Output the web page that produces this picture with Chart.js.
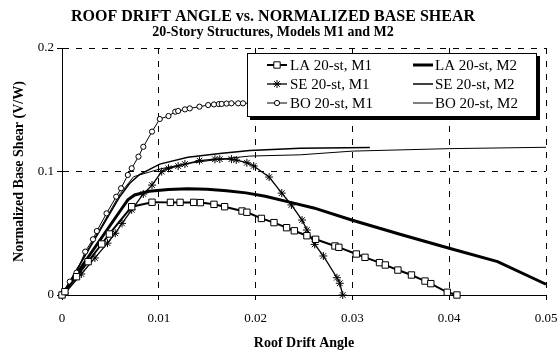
<!DOCTYPE html>
<html>
<head>
<meta charset="utf-8">
<script src="https://cdn.jsdelivr.net/npm/chart.js@4.4.1/dist/chart.umd.min.js"></script>
<style>
  html, body { margin: 0; padding: 0; background: #fff; }
  canvas { display: block; }
</style>
</head>
<body>
<canvas id="drift-shear-chart" width="559" height="356"></canvas>
<script>
// Roof drift angle (x) and normalized base shear V/W (y), one pair of arrays per curve
const laM1Drift = [0, 0.0003, 0.0015, 0.0027, 0.0041, 0.0049, 0.0072, 0.0093, 0.0112, 0.0122, 0.0136, 0.0143, 0.0157, 0.0168, 0.0186, 0.0191, 0.0206, 0.0219, 0.0232, 0.024, 0.0253, 0.0262, 0.0282, 0.0286, 0.0304, 0.0313, 0.0328, 0.0334, 0.0347, 0.0361, 0.0375, 0.0381, 0.0398, 0.0408];
const laM1Shear = [0, 0.0027, 0.0148, 0.027, 0.0413, 0.0494, 0.0715, 0.0751, 0.075, 0.075, 0.075, 0.0748, 0.0734, 0.0715, 0.068, 0.067, 0.062, 0.0586, 0.0545, 0.052, 0.048, 0.0451, 0.0397, 0.0386, 0.0332, 0.0305, 0.0262, 0.0243, 0.0202, 0.0162, 0.0113, 0.0092, 0.0022, 0];

const seM1Drift = [0, 0.0003, 0.002, 0.0034, 0.0047, 0.0055, 0.0062, 0.0072, 0.0084, 0.0093, 0.0103, 0.011, 0.012, 0.0127, 0.0142, 0.0158, 0.0163, 0.0175, 0.018, 0.0191, 0.0198, 0.0214, 0.0227, 0.0237, 0.0248, 0.0253, 0.0261, 0.027, 0.0284, 0.0287, 0.029];
const seM1Shear = [0, 0.0014, 0.017, 0.03, 0.042, 0.05, 0.058, 0.069, 0.0818, 0.089, 0.0999, 0.1026, 0.1044, 0.106, 0.1088, 0.1099, 0.11, 0.11, 0.1093, 0.1071, 0.1045, 0.0955, 0.0825, 0.0729, 0.0607, 0.0526, 0.041, 0.0316, 0.014, 0.0095, 0];

const boM1Drift = [0, 0.0001, 0.0008, 0.0015, 0.0024, 0.0032, 0.0036, 0.0046, 0.0056, 0.0061, 0.0068, 0.0072, 0.0079, 0.0084, 0.0093, 0.0101, 0.011, 0.0117, 0.012, 0.0127, 0.0132, 0.0142, 0.0151, 0.0157, 0.0162, 0.0165, 0.017, 0.0175, 0.0182, 0.0187, 0.0195, 0.0205];
const boM1Shear = [0, 0.0014, 0.0108, 0.0181, 0.0351, 0.0451, 0.0518, 0.0661, 0.0796, 0.0864, 0.0972, 0.1026, 0.112, 0.12, 0.1323, 0.1425, 0.1449, 0.1484, 0.149, 0.1503, 0.1511, 0.1525, 0.1538, 0.1543, 0.1546, 0.1547, 0.155, 0.1552, 0.1552, 0.1552, 0.1553, 0.1555];

const laM2Drift = [0, 0.006, 0.0068, 0.0075, 0.009, 0.011, 0.013, 0.015, 0.017, 0.019, 0.021, 0.0235, 0.026, 0.03, 0.035, 0.04, 0.045, 0.05];
const laM2Shear = [0, 0.068, 0.077, 0.081, 0.084, 0.0855, 0.086, 0.0857, 0.0845, 0.0827, 0.08, 0.0752, 0.0705, 0.0605, 0.049, 0.0378, 0.027, 0.0087];

const seM2Drift = [0, 0.003, 0.006, 0.007, 0.008, 0.0101, 0.013, 0.0163, 0.0194, 0.0246, 0.0318];
const seM2Shear = [0, 0.04, 0.08, 0.0905, 0.0975, 0.106, 0.1115, 0.1145, 0.117, 0.1188, 0.1195];

const boM2Drift = [0, 0.003, 0.006, 0.0074, 0.0101, 0.013, 0.0163, 0.0194, 0.0246, 0.03, 0.04, 0.05];
const boM2Shear = [0, 0.041, 0.082, 0.0958, 0.102, 0.1065, 0.11, 0.1125, 0.1135, 0.1165, 0.1185, 0.1196];

const seriesLabels = ["LA 20-st, M1", "SE 20-st, M1", "BO 20-st, M1", "LA 20-st, M2", "SE 20-st, M2", "BO 20-st, M2"];
const driftTicks = [0, 0.01, 0.02, 0.03, 0.04, 0.05];
const shearTicks = [0, 0.1, 0.2];

const serif = "'Liberation Serif', 'Times New Roman', serif";

function toPoints(xs, ys) {
  return xs.map((x, i) => ({ x: x, y: ys[i] }));
}

function series(label, xs, ys, lineWidth, pointStyle, pointRadius) {
  return {
    label: label,
    data: toPoints(xs, ys),
    borderColor: "#000",
    borderWidth: lineWidth,
    pointStyle: pointStyle,
    pointRadius: pointRadius,
    pointHoverRadius: pointRadius,
    pointBackgroundColor: "#fff",
    pointBorderColor: "#000",
    pointBorderWidth: 1,
    tension: 0,
    fill: false,
    clip: false,
  };
}

// legend box drawn inside the plot, two columns of three
const insideLegend = {
  id: "insideLegend",
  afterDatasetsDraw(chart) {
    const ctx = chart.ctx;
    const box = { x: 247, y: 53, w: 290, h: 64 };
    const cols = [{ line: 267, text: 290 }, { line: 413, text: 435 }];
    const rows = [65, 84, 103];
    ctx.save();
    ctx.fillStyle = "#000";
    ctx.fillRect(box.x + 3, box.y + 3, box.w, box.h);
    ctx.fillStyle = "#fff";
    ctx.fillRect(box.x, box.y, box.w, box.h);
    ctx.strokeStyle = "#000";
    ctx.lineWidth = 1;
    ctx.strokeRect(box.x + 0.5, box.y + 0.5, box.w - 1, box.h - 1);
    ctx.font = "15px " + serif;
    ctx.textBaseline = "middle";
    ctx.textAlign = "left";
    chart.data.datasets.forEach((ds, i) => {
      const col = cols[Math.floor(i / 3)];
      const y = rows[i % 3];
      ctx.strokeStyle = "#000";
      ctx.lineWidth = ds.borderWidth;
      ctx.beginPath();
      ctx.moveTo(col.line, y);
      ctx.lineTo(col.line + 20, y);
      ctx.stroke();
      if (ds.pointRadius > 0) {
        ctx.fillStyle = "#fff";
        ctx.lineWidth = 1;
        Chart.helpers.drawPoint(ctx, { pointStyle: ds.pointStyle, radius: ds.pointRadius, borderWidth: 1, rotation: 0 }, col.line + 10, y);
      }
      ctx.fillStyle = "#000";
      ctx.fillText(ds.label, col.text, y + 1);
    });
    ctx.restore();
  },
};

const axisGrid = { color: "#000", lineWidth: 1, tickLength: 5, tickColor: "#000" };
const axisBorder = { color: "#000", width: 1, dash: [6, 7] };

new Chart(document.getElementById("drift-shear-chart"), {
  type: "line",
  data: {
    datasets: [
      series(seriesLabels[0], laM1Drift, laM1Shear, 2, "rect", 4.5),
      series(seriesLabels[1], seM1Drift, seM1Shear, 1.3, "star", 4),
      series(seriesLabels[2], boM1Drift, boM1Shear, 1, "circle", 2.6),
      series(seriesLabels[3], laM2Drift, laM2Shear, 3, "circle", 0),
      series(seriesLabels[4], seM2Drift, seM2Shear, 1.5, "circle", 0),
      series(seriesLabels[5], boM2Drift, boM2Shear, 1, "circle", 0),
    ],
  },
  options: {
    responsive: false,
    animation: false,
    devicePixelRatio: 1,
    layout: { padding: { left: 0, right: 13, top: 0, bottom: 0 } },
    plugins: {
      legend: { display: false },
      tooltip: { enabled: false },
      title: {
        display: true,
        text: "ROOF DRIFT ANGLE vs. NORMALIZED BASE SHEAR",
        color: "#000",
        font: { family: serif, size: 16, weight: "bold", lineHeight: 1 },
        padding: { top: 9, bottom: 0 },
      },
      subtitle: {
        display: true,
        text: "20-Story Structures, Models M1 and M2",
        color: "#000",
        font: { family: serif, size: 14, weight: "bold", lineHeight: 1 },
        padding: { top: 0, bottom: 9 },
      },
    },
    scales: {
      x: {
        type: "linear",
        min: 0,
        max: 0.05,
        afterBuildTicks: (scale) => {
          scale.ticks = driftTicks.map((v) => ({ value: v }));
        },
        ticks: { color: "#000", font: { family: serif, size: 13 }, padding: 11, maxRotation: 0 },
        grid: axisGrid,
        border: axisBorder,
        title: {
          display: true,
          text: "Roof Drift Angle",
          color: "#000",
          font: { family: serif, size: 14, weight: "bold" },
          padding: { top: 4, bottom: 4 },
        },
        afterFit: (scale) => {
          scale.height = 61;
          scale.paddingLeft = 0;
          scale.paddingRight = 0;
        },
      },
      y: {
        type: "linear",
        min: 0,
        max: 0.2,
        afterBuildTicks: (scale) => {
          scale.ticks = shearTicks.map((v) => ({ value: v }));
        },
        ticks: { color: "#000", font: { family: serif, size: 13 }, padding: 3 },
        grid: axisGrid,
        border: axisBorder,
        title: {
          display: true,
          text: "Normalized Base Shear (V/W)",
          color: "#000",
          font: { family: serif, size: 14, weight: "bold" },
          padding: { top: 11, bottom: 0 },
        },
        afterFit: (scale) => {
          scale.width = 62;
          scale.paddingTop = 0;
          scale.paddingBottom = 0;
        },
      },
    },
  },
  plugins: [insideLegend],
});
</script>
</body>
</html>
